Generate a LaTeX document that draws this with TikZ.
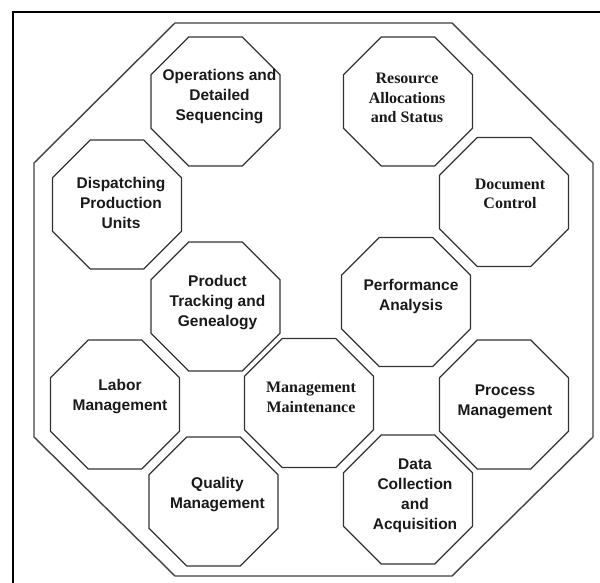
\documentclass[tikz,border=0pt]{standalone}
\usepackage{fontspec}
\setmainfont{Liberation Sans}
\newfontfamily\tnr{Liberation Serif}
\usetikzlibrary{shapes.geometric}
\begin{document}
\begin{tikzpicture}[x=1pt,y=-1pt,
  oct/.style={regular polygon, regular polygon sides=8, minimum size=139.6pt, inner sep=0pt, draw=black!80, line width=1.3pt},
  sanslbl/.style={font=\fontsize{15.5}{20}\selectfont\bfseries, align=center, text=black!90, inner sep=0pt},
  seriflbl/.style={font=\tnr\fontsize{16}{19.5}\selectfont\bfseries, align=center, text=black!90, inner sep=0pt},
  frame/.style={line width=2pt, black},
  bigoct/.style={draw=black!75, line width=1.4pt}]
\useasboundingbox (0,0) rectangle (600,583);
% outer frame (only top and left edges are in view)
\coordinate (fbl) at (13,583);
\coordinate (ftl) at (13,12);
\coordinate (ftr) at (600,12);
\draw[frame] (fbl) -- (ftl) -- (ftr);
% big octagon
\draw[bigoct] (175,23) -- (452,23) -- (593,163) -- (593,437) -- (452,576) -- (175,576) -- (34,437) -- (34,163) -- cycle;
% small octagons
\node[oct] (ops)  at (215.5,101.5) {};
\node[oct] (disp) at (117,204.5) {};
\node[oct] (prod) at (215.5,306.5) {};
\node[oct] (labor) at (115,404.5) {};
\node[oct] (qual) at (213.5,501.5) {};
\node[oct] (maint) at (309,403) {};
\node[oct] (res)  at (408,101.5) {};
\node[oct] (doc)  at (504,202) {};
\node[oct] (perf) at (406,302) {};
\node[oct] (proc) at (504,404.5) {};
\node[oct] (data) at (408,499.5) {};
% labels
\node[sanslbl] (opsT) at ([xshift=4pt,yshift=5pt]ops.center) {Operations and\\Detailed\\Sequencing};
\node[sanslbl] (dispT) at ([xshift=4pt,yshift=1.5pt]disp.center) {Dispatching\\Production\\Units};
\node[sanslbl] (prodT) at ([xshift=2pt,yshift=3.5pt]prod.center) {Product\\Tracking and\\Genealogy};
\node[sanslbl] (laborT) at ([xshift=5pt,yshift=8pt]labor.center) {Labor\\Management};
\node[sanslbl] (qualT) at ([xshift=4pt,yshift=7pt]qual.center) {Quality\\Management};
\node[seriflbl] (maintT) at ([xshift=2pt,yshift=5.5pt]maint.center) {Management\\Maintenance};
\node[seriflbl] (resT) at ([xshift=-1pt,yshift=3.5pt]res.center) {Resource\\Allocations\\and Status};
\node[seriflbl] (docT) at ([xshift=6pt,yshift=8pt]doc.center) {Document\\Control};
\node[sanslbl] (perfT) at ([xshift=5pt,yshift=6pt]perf.center) {Performance\\Analysis};
\node[sanslbl] (procT) at ([xshift=1pt,yshift=2.5pt]proc.center) {Process\\Management};
\node[sanslbl] (dataT) at ([xshift=7pt,yshift=3.5pt]data.center) {Data\\Collection\\and\\Acquisition};
\end{tikzpicture}
\end{document}
